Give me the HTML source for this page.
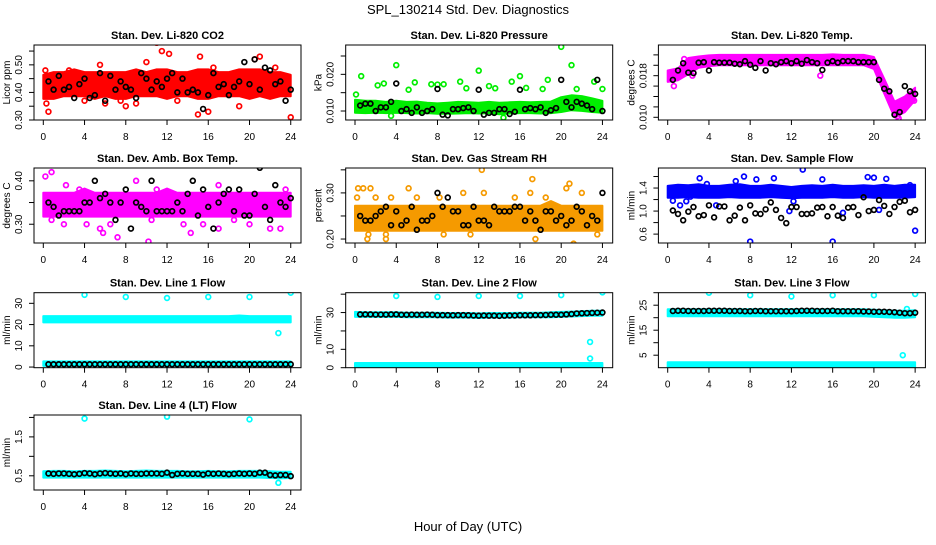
<!DOCTYPE html>
<html><head><meta charset="utf-8">
<style>
html,body{margin:0;padding:0;background:#fff;}
svg text{font-family:"Liberation Sans",sans-serif;}
</style></head>
<body>
<svg id="chart" width="936" height="540" viewBox="0 0 936 540" xmlns="http://www.w3.org/2000/svg">
<text x="468" y="14" text-anchor="middle" font-size="13">SPL_130214  Std. Dev. Diagnostics</text>
<text x="468" y="531" text-anchor="middle" font-size="13">Hour of Day (UTC)</text>
</svg>
<script>
// ---- data (hour-indexed bands 0..24, black points every 0.5h from 0.5..24, outliers [hour,value]) ----
const xTicks = [0,4,8,12,16,20,24];

const co2Lo = [0.38,0.38,0.39,0.39,0.39,0.38,0.39,0.38,0.38,0.39,0.39,0.39,0.38,0.39,0.39,0.38,0.38,0.39,0.39,0.39,0.38,0.39,0.38,0.39,0.39];
const co2Hi = [0.46,0.47,0.47,0.48,0.47,0.47,0.47,0.47,0.47,0.48,0.47,0.48,0.48,0.47,0.47,0.48,0.48,0.47,0.47,0.48,0.48,0.48,0.47,0.47,0.46];
const co2Black = [0.44,0.41,0.46,0.41,0.42,0.38,0.43,0.45,0.38,0.39,0.47,0.37,0.46,0.41,0.44,0.42,0.41,0.38,0.47,0.45,0.41,0.44,0.42,0.45,0.47,0.40,0.45,0.40,0.41,0.40,0.34,0.39,0.47,0.42,0.43,0.39,0.42,0.44,0.51,0.43,0.52,0.41,0.49,0.48,0.43,0.44,0.37,0.41];
const co2Out = [[0.2,0.48],[0.3,0.36],[0.5,0.33],[2.5,0.48],[4,0.37],[5.5,0.50],[6,0.36],[7.5,0.37],[8,0.35],[9,0.36],[10,0.51],[11,0.58],[11.5,0.55],[12.2,0.54],[13,0.37],[15,0.32],[15.2,0.53],[16,0.33],[16.5,0.49],[19,0.35],[20.5,0.52],[21,0.53],[22.5,0.49],[24,0.31]];

const presLo = [0.0098,0.0097,0.0098,0.0097,0.0098,0.0097,0.0096,0.0097,0.0095,0.0095,0.0096,0.0097,0.0096,0.0097,0.0094,0.0096,0.0097,0.0097,0.0096,0.0097,0.0100,0.0105,0.0103,0.0100,0.0098];
const presHi = [0.0128,0.0125,0.0125,0.0122,0.0125,0.0122,0.0123,0.0120,0.0118,0.0120,0.0122,0.0121,0.0120,0.0122,0.0120,0.0121,0.0122,0.0121,0.0122,0.0123,0.0135,0.0140,0.0138,0.0132,0.0125];
const presBlack = [0.0115,0.0120,0.0120,0.0100,0.0110,0.0110,0.0125,0.0175,0.0100,0.0105,0.0095,0.0110,0.0095,0.0100,0.0105,0.0160,0.0090,0.0088,0.0105,0.0105,0.0108,0.0110,0.0100,0.0158,0.0090,0.0095,0.0095,0.0105,0.0105,0.0092,0.0098,0.0158,0.0105,0.0108,0.0105,0.0110,0.0095,0.0102,0.0108,0.0185,0.0125,0.0110,0.0125,0.0120,0.0115,0.0105,0.0185,0.0100];
const presOut = [[0.1,0.0145],[0.6,0.0195],[2.2,0.017],[2.8,0.0175],[3.5,0.0087],[4,0.0225],[5.2,0.0158],[5.8,0.0178],[7.4,0.0173],[8,0.0172],[8.6,0.0173],[10.2,0.018],[10.8,0.0162],[12,0.021],[13,0.0168],[13.6,0.0162],[14.4,0.0082],[15.2,0.018],[16,0.0195],[16.6,0.0163],[18.2,0.016],[18.7,0.0185],[20,0.0275],[21,0.0225],[21.5,0.016],[23.2,0.018],[24,0.016]];

const tempLo = [0.0170,0.0173,0.0185,0.0197,0.0200,0.0202,0.0202,0.0202,0.0202,0.0202,0.0202,0.0202,0.0202,0.0202,0.0202,0.0202,0.0202,0.0202,0.0202,0.0202,0.0195,0.0148,0.0102,0.0112,0.0135];
const tempHi = [0.0188,0.0192,0.0212,0.0215,0.0217,0.0218,0.0218,0.0218,0.0218,0.0218,0.0218,0.0218,0.0218,0.0218,0.0218,0.0218,0.0219,0.0218,0.0218,0.0218,0.0214,0.0172,0.0128,0.0138,0.0155];
const tempBlack = [0.0172,0.0190,0.0204,0.0186,0.0185,0.0205,0.0206,0.0190,0.0206,0.0205,0.0205,0.0205,0.0203,0.0202,0.0208,0.0201,0.0195,0.0208,0.0190,0.0204,0.0202,0.0206,0.0208,0.0204,0.0208,0.0203,0.0210,0.0206,0.0204,0.0191,0.0205,0.0208,0.0205,0.0208,0.0208,0.0208,0.0206,0.0206,0.0206,0.0206,0.0172,0.0155,0.0150,0.0105,0.0110,0.0160,0.0150,0.0145];
const tempOut = [[0.6,0.0160],[1.6,0.0212],[2.4,0.0180],[14.8,0.0180],[22.4,0.0098],[22.3,0.0102],[23.9,0.0132]];

const ambLo = [0.32,0.32,0.32,0.32,0.32,0.32,0.32,0.32,0.32,0.32,0.32,0.32,0.32,0.32,0.32,0.32,0.32,0.32,0.32,0.32,0.32,0.32,0.32,0.32,0.32];
const ambHi = [0.37,0.37,0.37,0.37,0.38,0.37,0.37,0.37,0.37,0.37,0.37,0.37,0.38,0.37,0.37,0.37,0.37,0.37,0.37,0.37,0.37,0.37,0.37,0.37,0.37];
const ambBlack = [0.35,0.34,0.32,0.33,0.33,0.33,0.33,0.35,0.35,0.40,0.36,0.37,0.35,0.31,0.35,0.38,0.29,0.35,0.34,0.33,0.40,0.33,0.33,0.33,0.33,0.35,0.33,0.37,0.40,0.32,0.38,0.34,0.29,0.35,0.37,0.38,0.33,0.38,0.32,0.32,0.37,0.43,0.34,0.31,0.39,0.35,0.34,0.36];
const ambOut = [[0.2,0.41],[0.8,0.42],[0.8,0.31],[2,0.30],[2.2,0.39],[3.5,0.38],[4.2,0.30],[5.5,0.29],[5.8,0.28],[6.5,0.30],[7.2,0.27],[9,0.40],[10.2,0.26],[10.5,0.31],[11,0.38],[13.6,0.30],[14.3,0.28],[15.5,0.30],[17,0.29],[17,0.39],[18.5,0.31],[20,0.30],[22,0.29],[23,0.29],[23.5,0.38]];

const rhLo = [0.22,0.22,0.22,0.22,0.22,0.22,0.22,0.22,0.22,0.22,0.22,0.22,0.22,0.22,0.22,0.22,0.22,0.22,0.22,0.22,0.22,0.22,0.22,0.22,0.22];
const rhHi = [0.27,0.27,0.27,0.27,0.27,0.27,0.27,0.27,0.27,0.27,0.27,0.27,0.27,0.27,0.27,0.27,0.27,0.27,0.27,0.28,0.27,0.27,0.27,0.27,0.27];
const rhBlack = [0.25,0.24,0.24,0.25,0.26,0.27,0.23,0.26,0.23,0.24,0.27,0.22,0.24,0.24,0.25,0.30,0.27,0.29,0.26,0.26,0.23,0.23,0.27,0.24,0.24,0.23,0.27,0.26,0.26,0.26,0.27,0.27,0.24,0.26,0.24,0.22,0.26,0.26,0.24,0.25,0.23,0.24,0.27,0.26,0.23,0.25,0.24,0.30];
const rhOut = [[0.2,0.29],[0.3,0.31],[0.8,0.31],[1.2,0.20],[1.3,0.21],[1.5,0.31],[2,0.29],[3,0.21],[3,0.20],[3.5,0.29],[5.2,0.31],[6,0.29],[8.2,0.29],[8.6,0.21],[10.5,0.30],[11.2,0.21],[12.3,0.35],[12.5,0.30],[15.5,0.29],[17.2,0.33],[17,0.30],[17.5,0.20],[18.5,0.29],[20.5,0.31],[20.8,0.32],[21.2,0.19],[22,0.30],[23.5,0.21]];

const flowLo = [1.25,1.25,1.26,1.25,1.25,1.25,1.26,1.25,1.25,1.25,1.26,1.25,1.24,1.25,1.25,1.25,1.26,1.25,1.25,1.26,1.25,1.25,1.25,1.25,1.26];
const flowHi = [1.42,1.44,1.43,1.45,1.42,1.42,1.44,1.45,1.42,1.42,1.44,1.42,1.40,1.42,1.43,1.42,1.44,1.42,1.42,1.43,1.42,1.44,1.42,1.44,1.44];
const flowBlack = [1.01,0.95,0.84,0.99,1.07,0.91,0.93,1.10,0.89,1.08,1.08,0.84,0.92,1.06,0.84,1.10,0.96,0.95,1.03,1.15,1.02,0.88,0.79,1.07,1.07,0.95,0.95,0.96,1.06,1.07,0.91,1.07,0.92,0.88,1.06,1.07,0.93,1.24,1.00,1.02,1.19,1.09,0.95,1.07,1.16,1.18,0.98,1.02];
const flowOut = [[0.5,1.18],[1.2,1.10],[1.8,1.17],[2.2,1.25],[3.1,1.57],[3.8,1.47],[4.7,1.10],[6.6,1.52],[7.4,1.60],[8,0.47],[8.6,1.55],[10.3,1.57],[11.8,1.0],[12.2,1.17],[13.1,1.72],[15,1.55],[16,0.47],[17,0.97],[19.4,1.59],[20,1.58],[20.5,1.02],[21.2,1.56],[23.5,1.45],[24,0.66]];

const l1Lo = [21.5,21.5,21.5,21.5,21.5,21.5,21.5,21.5,21.5,21.5,21.5,21.5,21.5,21.5,21.5,21.5,21.5,21.5,21.5,21.5,21.5,21.5,21.5,21.5,21.5];
const l1Hi = [23.5,23.5,23.5,23.5,23.5,23.5,23.5,23.5,23.5,23.5,23.5,23.5,23.5,23.5,23.5,23.5,23.5,23.5,23.5,23.8,23.5,23.5,23.5,23.5,23.5];
const l1Lo2 = [1.0,1.0,1.0,1.0,1.0,1.0,1.0,1.0,1.0,1.0,1.0,1.0,1.0,1.0,1.0,1.0,1.0,1.0,1.0,1.0,1.0,1.0,1.0,1.0,1.0];
const l1Hi2 = [2.2,2.2,2.2,2.2,2.2,2.2,2.2,2.2,2.2,2.2,2.2,2.2,2.2,2.2,2.2,2.2,2.2,2.2,2.2,2.2,2.2,2.2,2.2,2.2,2.2];
const l1Black = [1.3,1.3,1.3,1.3,1.3,1.3,1.3,1.3,1.3,1.3,1.3,1.3,1.3,1.3,1.3,1.3,1.3,1.3,1.3,1.3,1.3,1.3,1.3,1.3,1.3,1.3,1.3,1.3,1.3,1.3,1.3,1.3,1.3,1.3,1.3,1.3,1.3,1.3,1.3,1.3,1.3,1.3,1.3,1.3,1.3,1.3,1.3,1.3];
const l1Out = [[4,34],[8,33],[12,32.5],[16,33],[20,33],[24,35],[22.8,16]];

const l2Lo = [28.2,28.2,28.2,28.2,28.2,28.0,28.0,28.0,28.0,27.8,27.8,27.8,27.6,27.8,27.8,27.8,28.0,28.0,28.0,28.0,28.2,28.4,28.6,28.8,28.8];
const l2Hi = [29.8,29.6,29.6,29.6,29.6,29.4,29.4,29.4,29.4,29.2,29.2,29.2,29.0,29.2,29.2,29.2,29.4,29.4,29.4,29.6,29.8,30.0,30.2,30.4,30.4];
const l2Lo2 = [0.5,0.5,0.5,0.5,0.5,0.5,0.5,0.5,0.5,0.5,0.5,0.5,0.5,0.5,0.5,0.5,0.5,0.5,0.5,0.5,0.5,0.5,0.5,0.5,0.5];
const l2Hi2 = [2.0,2.0,2.0,2.0,2.0,2.0,2.0,2.0,2.0,2.0,2.0,2.0,2.0,2.0,2.0,2.0,2.0,2.0,2.0,2.0,2.0,2.0,2.0,2.0,2.0];
const l2Black = [29.0,29.0,29.0,28.9,28.9,28.9,29.0,29.0,28.8,28.8,28.9,28.8,28.8,28.9,28.8,28.6,28.6,28.6,28.5,28.6,28.6,28.5,28.4,28.3,28.4,28.3,28.3,28.2,28.3,28.4,28.4,28.5,28.5,28.5,28.6,28.6,28.7,28.8,28.8,28.8,29.0,29.2,29.5,29.6,29.7,29.8,29.9,30.0];
const l2Out = [[4,39],[8,38.5],[12,39],[16,39],[20,39.5],[24,41],[22.8,14],[22.8,5]];

const l3Lo = [21.0,21.0,21.0,21.0,21.0,21.0,21.0,21.0,21.0,21.0,21.0,21.0,21.0,21.0,21.0,21.0,21.0,21.0,21.0,21.0,20.8,20.6,20.4,20.4,20.6];
const l3Hi = [23.0,23.0,23.0,23.0,23.0,23.0,23.0,23.0,23.0,23.0,23.0,23.0,23.0,23.0,23.0,23.0,23.0,23.0,23.0,23.0,22.8,22.6,22.4,22.4,22.6];
const l3Lo2 = [0.5,0.5,0.5,0.5,0.5,0.5,0.5,0.5,0.5,0.5,0.5,0.5,0.5,0.5,0.5,0.5,0.5,0.5,0.5,0.5,0.5,0.5,0.5,0.5,0.5];
const l3Hi2 = [1.8,1.8,1.8,1.8,1.8,1.8,1.8,1.8,1.8,1.8,1.8,1.8,1.8,1.8,1.8,1.8,1.8,1.8,1.8,1.8,1.8,1.8,1.8,1.8,1.8];
const l3Black = [22.7,22.8,22.8,22.7,22.7,22.7,22.7,22.8,22.8,22.8,22.8,22.7,22.7,22.7,22.6,22.6,22.7,22.7,22.6,22.6,22.6,22.6,22.6,22.6,22.7,22.8,22.8,22.8,22.7,22.7,22.7,22.8,22.6,22.6,22.6,22.6,22.6,22.5,22.5,22.4,22.4,22.4,22.3,22.2,22.0,21.8,21.8,22.0];
const l3Out = [[4,30],[8,29],[12,28.5],[16,29],[20,29],[24,29.5],[22.8,5],[23.2,23.5]];

const l4Lo = [0.48,0.48,0.48,0.48,0.48,0.48,0.48,0.48,0.48,0.48,0.48,0.48,0.48,0.48,0.48,0.48,0.48,0.48,0.48,0.48,0.48,0.48,0.47,0.46,0.47];
const l4Hi = [0.59,0.60,0.60,0.59,0.60,0.60,0.61,0.60,0.59,0.60,0.61,0.60,0.60,0.60,0.59,0.59,0.60,0.59,0.59,0.60,0.60,0.60,0.59,0.58,0.58];
const l4Black = [0.56,0.55,0.56,0.56,0.55,0.54,0.55,0.57,0.56,0.54,0.56,0.57,0.56,0.55,0.56,0.54,0.56,0.55,0.55,0.56,0.56,0.56,0.55,0.58,0.52,0.55,0.56,0.55,0.55,0.55,0.53,0.56,0.55,0.56,0.55,0.54,0.55,0.56,0.55,0.56,0.55,0.58,0.58,0.52,0.51,0.52,0.52,0.49];
const l4Out = [[4,1.97],[12,2.02],[20,1.95],[22.8,0.32]];

// ---- layout ----
const colLeft = [34, 345.7, 658.4];
const rowTop = [45, 168, 292.7, 415];
const BOXW = 267, BOXH = 75;

const panels = [
 {name:'co2', title:'Stan. Dev. Li-820 CO2', ylab:'Licor ppm', c:0, r:0, y0:0.30, y1:0.572, ticks:[0.30,0.35,0.40,0.45,0.50,0.55], labels:['0.30','0.40','0.50'], col:'#ff0000', band:[co2Lo,co2Hi], black:co2Black, out:co2Out},
 {name:'pressure', title:'Stan. Dev. Li-820 Pressure', ylab:'kPa', c:1, r:0, y0:0.00755, y1:0.0280, ticks:[0.010,0.015,0.020,0.025], labels:['0.010','0.020'], col:'#00ee00', band:[presLo,presHi], black:presBlack, out:presOut},
 {name:'temp', title:'Stan. Dev. Li-820 Temp.', ylab:'degrees C', c:2, r:0, y0:0.00948, y1:0.0239, ticks:[0.010,0.012,0.014,0.016,0.018,0.020,0.022], labels:['0.010','0.018'], col:'#ff00ff', band:[tempLo,tempHi], black:tempBlack, out:tempOut},
 {name:'amb-box-temp', title:'Stan. Dev. Amb. Box Temp.', ylab:'degrees C', c:0, r:1, y0:0.2568, y1:0.4295, ticks:[0.30,0.35,0.40], labels:['0.30','0.40'], col:'#ff00ff', band:[ambLo,ambHi], black:ambBlack, out:ambOut},
 {name:'gas-stream-rh', title:'Stan. Dev. Gas Stream RH', ylab:'percent', c:1, r:1, y0:0.1914, y1:0.354, ticks:[0.20,0.25,0.30,0.35], labels:['0.20','0.30'], col:'#f59a00', band:[rhLo,rhHi], black:rhBlack, out:rhOut},
 {name:'sample-flow', title:'Stan. Dev. Sample Flow', ylab:'ml/min', c:2, r:1, y0:0.4456, y1:1.748, ticks:[0.6,0.8,1.0,1.2,1.4,1.6], labels:['0.6','1.0','1.4'], col:'#0000ff', band:[flowLo,flowHi], black:flowBlack, out:flowOut},
 {name:'line1-flow', title:'Stan. Dev. Line 1 Flow', ylab:'ml/min', c:0, r:2, y0:-0.3, y1:35.0, ticks:[0,10,20,30], labels:['0','10','20','30'], col:'#00ffff', band:[l1Lo,l1Hi], band2:[l1Lo2,l1Hi2], black:l1Black, out:l1Out},
 {name:'line2-flow', title:'Stan. Dev. Line 2 Flow', ylab:'ml/min', c:1, r:2, y0:0, y1:40.8, ticks:[0,10,20,30,40], labels:['0','10','30'], col:'#00ffff', band:[l2Lo,l2Hi], band2:[l2Lo2,l2Hi2], black:l2Black, out:l2Out},
 {name:'line3-flow', title:'Stan. Dev. Line 3 Flow', ylab:'ml/min', c:2, r:2, y0:0, y1:30.0, ticks:[5,10,15,20,25,30], labels:['5','15','25'], col:'#00ffff', band:[l3Lo,l3Hi], band2:[l3Lo2,l3Hi2], black:l3Black, out:l3Out},
 {name:'line4-flow', title:'Stan. Dev. Line 4 (LT) Flow', ylab:'ml/min', c:0, r:3, y0:0.135, y1:2.0625, ticks:[0.5,1.0,1.5,2.0], labels:['0.5','1.5'], col:'#00ffff', band:[l4Lo,l4Hi], black:l4Black, out:l4Out}
];

const NS = 'http://www.w3.org/2000/svg';
const svg = document.getElementById('chart');
function mk(tag, attrs, parent){
  const e = document.createElementNS(NS, tag);
  for (const k in attrs) e.setAttribute(k, attrs[k]);
  (parent||svg).appendChild(e);
  return e;
}

panels.forEach(p => {
  const L = colLeft[p.c], T = rowTop[p.r], B = T + BOXH, R = L + BOXW;
  const xs = h => L + 9.3 + h * 10.31;
  const ys = v => B - (v - p.y0) / (p.y1 - p.y0) * BOXH;
  const g = mk('g', {});
  
  

  const clipId = 'clip-' + p.name;
  const cp = mk('clipPath', {id: clipId}, g);
  mk('rect', {x: L, y: T, width: BOXW, height: BOXH}, cp);
  const plot = mk('g', {'clip-path': 'url(#' + clipId + ')'}, g);
  
  

  const bands = [p.band].concat(p.band2 ? [p.band2] : []);
  bands.forEach((bd, bi) => {
    const lo = bd[0], hi = bd[1];
    let d = '';
    hi.forEach((v, h) => { d += (h ? 'L' : 'M') + xs(h).toFixed(1) + ',' + (ys(v) - 1).toFixed(1); });
    for (let h = lo.length - 1; h >= 0; h--) d += 'L' + xs(h).toFixed(1) + ',' + (ys(lo[h]) + 1).toFixed(1);
    d += 'Z';
    const path = mk('path', {d: d, fill: p.col, stroke: p.col, 'stroke-width': 2, 'stroke-linejoin': 'round'}, plot);
    
    
  });

  p.out.forEach(pt => {
    const c = mk('circle', {cx: xs(pt[0]), cy: ys(pt[1]), r: 2.4, fill: 'none', stroke: p.col, 'stroke-width': 1.7}, plot);
    
    
  });

  p.black.forEach((v, i) => {
    const c = mk('circle', {cx: xs(0.5 * (i + 1)), cy: ys(v), r: 2.4, fill: 'none', stroke: '#000', 'stroke-width': 1.7}, plot);
    
    
  });

  const box = mk('rect', {x: L, y: T, width: BOXW, height: BOXH, fill: 'none', stroke: '#000', 'stroke-width': 1}, g);
  
  

  const title = mk('text', {x: (L + R) / 2, y: T - 6, 'text-anchor': 'middle', 'font-size': 11, 'font-weight': 'bold'}, g);
  title.textContent = p.title;
  
  

  xTicks.forEach(t => {
    mk('line', {x1: xs(t), x2: xs(t), y1: B, y2: B + 5, stroke: '#000'}, g);
    const tx = mk('text', {x: xs(t), y: B + 20, 'text-anchor': 'middle', 'font-size': 10}, g);
    tx.textContent = t;
    
    
  });

  p.ticks.forEach(t => {
    const y = ys(t);
    mk('line', {x1: L - 5, x2: L, y1: y, y2: y, stroke: '#000'}, g);
  });
  p.labels.forEach(lbl => {
    const y = ys(parseFloat(lbl));
    const tx = mk('text', {x: L - 12, y: y, 'text-anchor': 'middle', 'font-size': 10, transform: 'rotate(-90 ' + (L - 12) + ' ' + y + ')'}, g);
    tx.textContent = lbl;
    
    
  });

  const yl = mk('text', {x: L - 24, y: (T + B) / 2, 'text-anchor': 'middle', 'font-size': 10, transform: 'rotate(-90 ' + (L - 24) + ' ' + ((T + B) / 2) + ')'}, g);
  yl.textContent = p.ylab;
  
  
});
</script>
</body></html>
